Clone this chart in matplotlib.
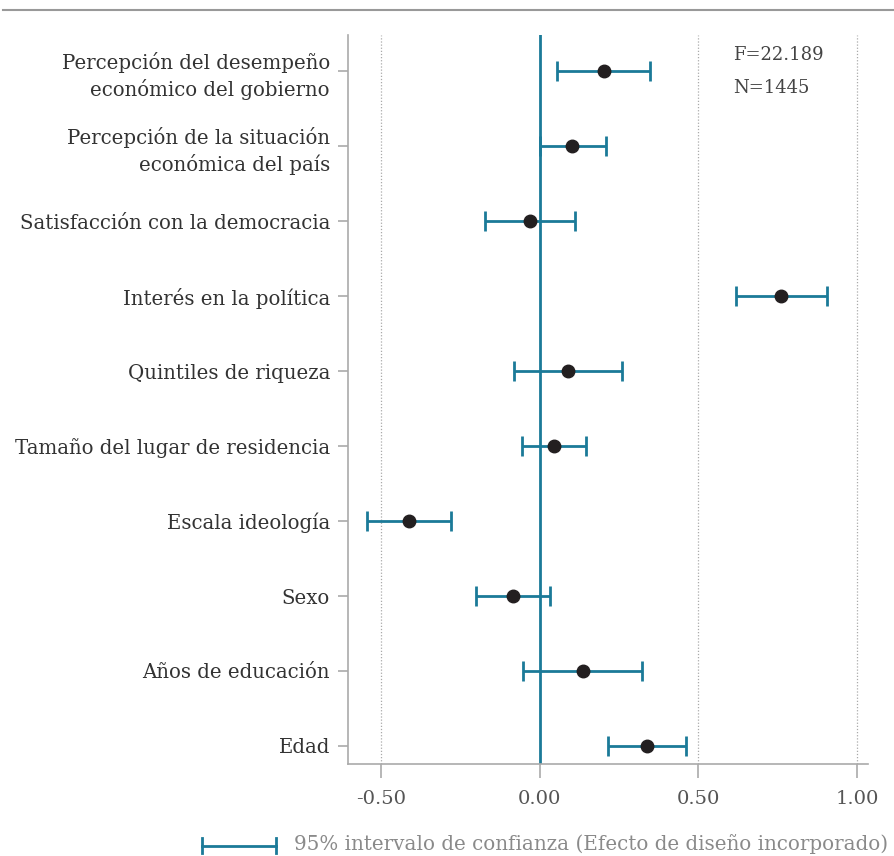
import numpy as np
import matplotlib.pyplot as plt
from matplotlib.lines import Line2D

labels = ['Percepción del desempeño\neconómico del gobierno',
          'Percepción de la situación\neconómica del país',
          'Satisfacción con la democracia',
          'Interés en la política',
          'Quintiles de riqueza',
          'Tamaño del lugar de residencia',
          'Escala ideología',
          'Sexo',
          'Años de educación',
          'Edad']
coef = [0.202, 0.101, -0.032, 0.760, 0.088, 0.044, -0.413, -0.085, 0.136, 0.338]
ci_low = [0.054, 0.000, -0.173, 0.618, -0.082, -0.057, -0.543, -0.202, -0.054, 0.215]
ci_high = [0.347, 0.208, 0.110, 0.905, 0.259, 0.145, -0.278, 0.032, 0.322, 0.461]
xticks = [-0.5, 0.0, 0.5, 1.0]
xtick_labels = ['-0.50', '0.00', '0.50', '1.00']
stats = ['F=22.189', 'N=1445']

teal = '#1b7a98'
plt.rcParams['font.family'] = ['DejaVu Serif']

fig = plt.figure(figsize=(8.95, 8.56), dpi=100)
ax = fig.add_axes([0.3888, 0.1075, 0.5812, 0.8515])

y = np.arange(len(labels))[::-1]
coef = np.array(coef)
err = [coef - np.array(ci_low), np.array(ci_high) - coef]

for xv in [-0.5, 0.5, 1.0]:
    ax.axvline(xv, color='#aaaaaa', lw=0.9, ls=(0, (1, 1.5)), zorder=0)
ax.axvline(0, color=teal, lw=2, zorder=1)

ax.errorbar(coef, y, xerr=err, fmt='none', ecolor=teal, elinewidth=2,
            capsize=7, capthick=2, zorder=2)
ax.plot(coef, y, 'o', color='#231f20', ms=9, zorder=3)

ax.set_xlim(-0.604, 1.035)
ax.set_ylim(-0.24, 9.48)
ax.set_xticks(xticks)
ax.set_xticklabels(xtick_labels, fontsize=14, color='#555555')
ax.set_yticks(y)
ax.set_yticklabels(labels, fontsize=14.2, color='#333333', linespacing=1.35)
ax.tick_params(axis='x', length=10, width=1.2, color='#aaaaaa', pad=9)
ax.tick_params(axis='y', length=7, width=1.2, color='#aaaaaa', pad=6)
for s in ['top', 'right']:
    ax.spines[s].set_visible(False)
for s in ['left', 'bottom']:
    ax.spines[s].set_color('#aaaaaa')
    ax.spines[s].set_linewidth(1.2)

ax.text(0.609, 9.21, stats[0], fontsize=13, color='#444444', va='center')
ax.text(0.609, 8.77, stats[1], fontsize=13, color='#444444', va='center')

# top rule
fig.add_artist(Line2D([0.003, 0.998], [0.988, 0.988], color='#999999', lw=1.5))

# legend
fig.add_artist(Line2D([0.226, 0.308], [0.012, 0.012], color=teal, lw=2))
fig.add_artist(Line2D([0.226, 0.226], [0.003, 0.021], color=teal, lw=2))
fig.add_artist(Line2D([0.308, 0.308], [0.003, 0.021], color=teal, lw=2))
fig.text(0.329, 0.014, '95% intervalo de confianza (Efecto de diseño incorporado)',
         fontsize=14.3, color='#8a8a8a', va='center')

fig.savefig('out.png', dpi=100)
